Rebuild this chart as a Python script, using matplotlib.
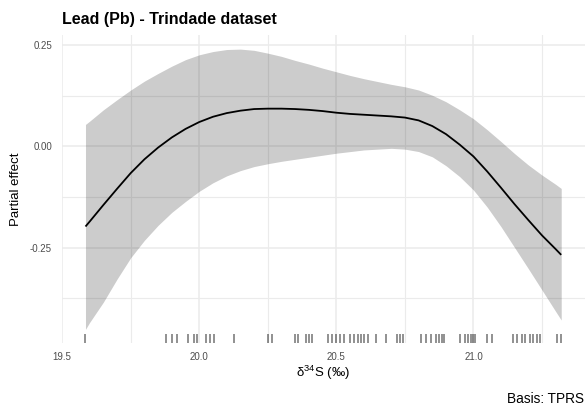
import matplotlib
matplotlib.use("Agg")
import matplotlib.pyplot as plt
import numpy as np

# ---- data ----
x_grid = [19.585, 19.60, 19.65, 19.70, 19.75, 19.80, 19.85, 19.90, 19.95, 20.00,
          20.05, 20.10, 20.15, 20.20, 20.25, 20.30, 20.35, 20.40, 20.45, 20.50,
          20.55, 20.60, 20.65, 20.70, 20.75, 20.80, 20.85, 20.90, 20.95, 21.00,
          21.05, 21.10, 21.15, 21.20, 21.25, 21.30, 21.32]
fit = [-0.198, -0.186, -0.145, -0.105, -0.066, -0.032, -0.003, 0.022, 0.043, 0.060,
       0.073, 0.082, 0.088, 0.092, 0.093, 0.093, 0.092, 0.090, 0.087, 0.083,
       0.080, 0.078, 0.076, 0.074, 0.071, 0.064, 0.050, 0.030, 0.004, -0.025,
       -0.062, -0.102, -0.143, -0.182, -0.220, -0.254, -0.268]
upper = [0.054, 0.062, 0.090, 0.115, 0.139, 0.161, 0.180, 0.198, 0.214, 0.226,
         0.234, 0.239, 0.240, 0.237, 0.230, 0.222, 0.212, 0.203, 0.193, 0.184,
         0.175, 0.167, 0.160, 0.153, 0.147, 0.139, 0.126, 0.110, 0.090, 0.068,
         0.041, 0.012, -0.018, -0.046, -0.071, -0.094, -0.104]
lower = [-0.452, -0.435, -0.385, -0.328, -0.275, -0.232, -0.195, -0.163, -0.136, -0.111,
         -0.090, -0.073, -0.060, -0.050, -0.043, -0.037, -0.032, -0.027, -0.022, -0.017,
         -0.013, -0.009, -0.007, -0.005, -0.007, -0.013, -0.026, -0.048, -0.075, -0.108,
         -0.150, -0.198, -0.250, -0.302, -0.355, -0.408, -0.429]

rug_x = [19.585, 19.880, 19.902, 19.920, 19.960, 19.979, 19.993, 20.026, 20.040, 20.055,
         20.128, 20.252, 20.266, 20.350, 20.361, 20.390, 20.401, 20.412, 20.470, 20.485,
         20.500, 20.514, 20.529, 20.551, 20.565, 20.580, 20.591, 20.602, 20.616, 20.645,
         20.682, 20.722, 20.733, 20.744, 20.809, 20.828, 20.846, 20.864, 20.875, 20.886,
         20.893, 20.952, 20.970, 20.981, 20.992, 20.999, 21.006, 21.050, 21.068, 21.145,
         21.159, 21.177, 21.188, 21.207, 21.218, 21.232, 21.243, 21.305, 21.320]

x_major = [19.5, 20.0, 20.5, 21.0]
x_major_labels = ["19.5", "20.0", "20.5", "21.0"]
x_minor = [19.75, 20.25, 20.75, 21.25]
y_major = [-0.25, 0.0, 0.25]
y_major_labels = ["-0.25", "0.00", "0.25"]
y_minor = [-0.375, -0.125, 0.125]

title = "Lead (Pb) - Trindade dataset"
xlabel = "δ$^{34}$S (‰)"
ylabel = "Partial effect"
caption = "Basis: TPRS"

# ---- style ----
plt.rcParams['font.family'] = ['Liberation Sans', 'DejaVu Sans']
plt.rcParams['mathtext.fontset'] = 'custom'
plt.rcParams['mathtext.rm'] = 'Liberation Sans'
plt.rcParams['mathtext.it'] = 'Liberation Sans:italic'
plt.rcParams['mathtext.default'] = 'regular'

W, H = 588, 413
fig = plt.figure(figsize=(W / 100, H / 100), dpi=100)
left, right, top, bottom = 61.7, 585.0, 35.1, 343.4
ax = fig.add_axes([left / W, 1 - bottom / H, (right - left) / W, (bottom - top) / H])

ax.fill_between(x_grid, lower, upper, color='black', alpha=0.2, linewidth=0, zorder=2)
ax.plot(x_grid, fit, color='black', lw=1.3, zorder=3, solid_capstyle='butt',
        solid_joinstyle='round')
ax.vlines(rug_x, 0, 0.03, transform=ax.get_xaxis_transform(), color='black',
          alpha=0.55, lw=1.1, zorder=3)

# limits: 5% expansion like ggplot
xr = max(rug_x) - min(rug_x)
ax.set_xlim(min(rug_x) - 0.05 * xr, max(rug_x) + 0.05 * xr)
yr = max(upper) - min(lower)
ax.set_ylim(min(lower) - 0.05 * yr, max(upper) + 0.05 * yr)

ax.set_xticks(x_major)
ax.set_xticklabels(x_major_labels)
ax.set_xticks(x_minor, minor=True)
ax.set_yticks(y_major)
ax.set_yticklabels(y_major_labels)
ax.set_yticks(y_minor, minor=True)

ax.grid(True, which='major', color='#EBEBEB', lw=1.1, zorder=0)
ax.grid(True, which='minor', color='#EBEBEB', lw=0.8, zorder=0)
ax.set_axisbelow(True)
for s in ax.spines.values():
    s.set_visible(False)
ax.tick_params(which='both', length=0)
ax.tick_params(axis='x', labelsize=7, labelcolor='#4D4D4D', pad=6)
ax.tick_params(axis='y', labelsize=7, labelcolor='#4D4D4D', pad=7)

ax.set_xlabel(xlabel, fontsize=9.5, color='black', va='center')
ax.xaxis.set_label_coords(0.5, -0.096)
ax.set_ylabel(ylabel, fontsize=9.5, color='black', va='center')
ax.yaxis.set_label_coords(-0.0864, 0.5)

fig.text(left / W, 1 - 24 / H, title, fontsize=11.5, fontweight='bold',
         ha='left', va='baseline')
fig.text(584 / W, 1 - 403 / H, caption, fontsize=9.8, ha='right', va='baseline')

fig.savefig("out.png", dpi=100, facecolor='white')
